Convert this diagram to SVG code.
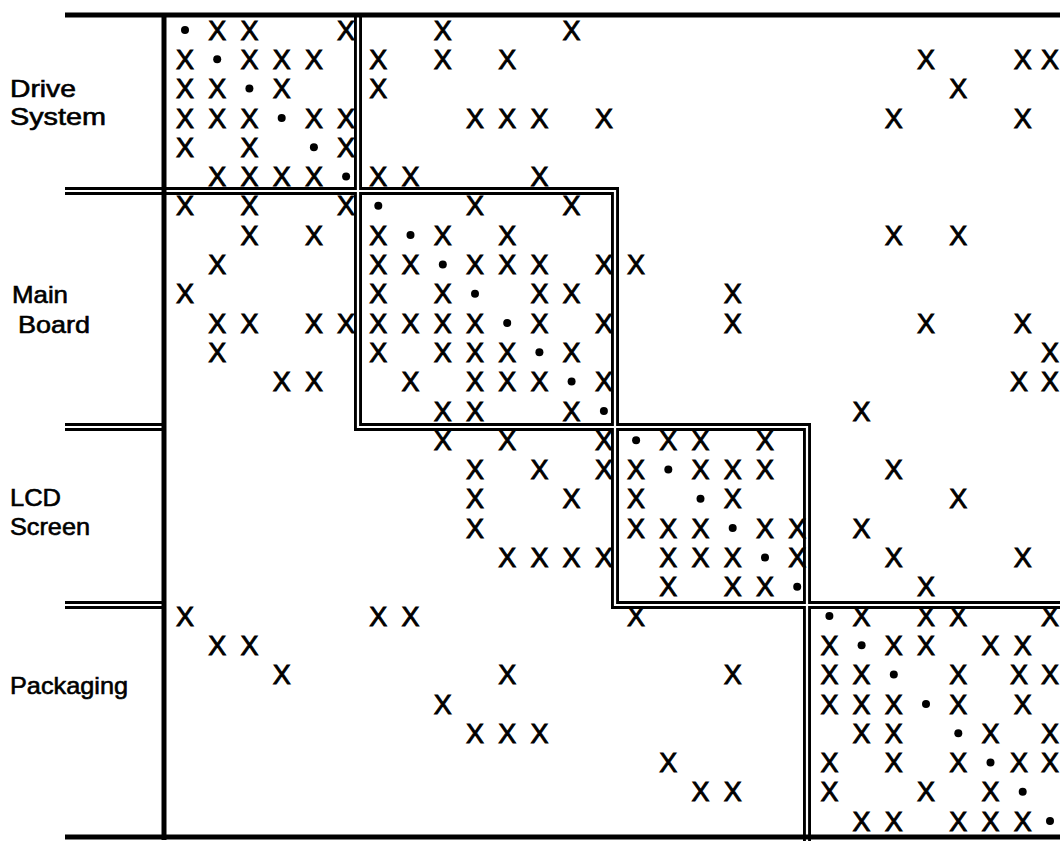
<svg xmlns="http://www.w3.org/2000/svg" width="1060" height="842" viewBox="0 0 1060 842">
<style>
.lbl{font-family:"Liberation Sans",Arial,sans-serif;font-size:24px;fill:#000;stroke:#000;stroke-width:0.6}
.x{font-family:"Liberation Sans",Arial,sans-serif;font-size:27px;fill:#000;stroke:#000;stroke-width:0.9;text-anchor:middle}
.d{fill:#000}
.dblk{fill:none;stroke:#000;stroke-width:8;stroke-linejoin:miter}
.dwht{fill:none;stroke:#fff;stroke-width:2.2;stroke-linejoin:miter}
.frame{fill:none;stroke:#000;stroke-width:5}
</style>
<rect width="1060" height="842" fill="#fff"/>
<g id="connectors">
<path class="dblk" d="M65,191 H615 V605 H1060 M358,15 V427 H807 V841 M65,427 H164 M65,605 H164"/>
<path class="dwht" d="M65,191 H615 V605 H1060 M358,15 V427 H807 V841 M65,427 H164 M65,605 H164"/>
<path class="frame" d="M65,15 H1060 M164,13 V840 M65,837 H1060"/>
</g>
<g id="drive-system">
<text class="lbl" x="10" y="97" textLength="66" lengthAdjust="spacingAndGlyphs">Drive</text>
<text class="lbl" x="10" y="125" textLength="96" lengthAdjust="spacingAndGlyphs">System</text>
</g>
<g id="main-board">
<text class="lbl" x="12" y="303" textLength="56" lengthAdjust="spacingAndGlyphs">Main</text>
<text class="lbl" x="18" y="333" textLength="72" lengthAdjust="spacingAndGlyphs">Board</text>
</g>
<g id="lcd-screen">
<text class="lbl" x="10" y="506" textLength="51" lengthAdjust="spacingAndGlyphs">LCD</text>
<text class="lbl" x="10" y="535" textLength="80" lengthAdjust="spacingAndGlyphs">Screen</text>
</g>
<g id="packaging">
<text class="lbl" x="10" y="694" textLength="118" lengthAdjust="spacingAndGlyphs">Packaging</text>
</g>
<g id="matrix">
<g transform="translate(0,30)"><circle class="d" cx="185" cy="0" r="4"/><text class="x" y="9.6"><tspan x="217.2">X</tspan><tspan x="249.4">X</tspan><tspan x="346.1">X</tspan><tspan x="442.8">X</tspan><tspan x="571.6">X</tspan></text></g>
<g transform="translate(0,59.3)"><circle class="d" cx="217.2" cy="0" r="4"/><text class="x" y="9.6"><tspan x="185">X</tspan><tspan x="249.4">X</tspan><tspan x="281.7">X</tspan><tspan x="313.9">X</tspan><tspan x="378.3">X</tspan><tspan x="442.8">X</tspan><tspan x="507.2">X</tspan><tspan x="926">X</tspan><tspan x="1022.7">X</tspan><tspan x="1050">X</tspan></text></g>
<g transform="translate(0,88.6)"><circle class="d" cx="249.4" cy="0" r="4"/><text class="x" y="9.6"><tspan x="185">X</tspan><tspan x="217.2">X</tspan><tspan x="281.7">X</tspan><tspan x="378.3">X</tspan><tspan x="958.3">X</tspan></text></g>
<g transform="translate(0,117.9)"><circle class="d" cx="281.7" cy="0" r="4"/><text class="x" y="9.6"><tspan x="185">X</tspan><tspan x="217.2">X</tspan><tspan x="249.4">X</tspan><tspan x="313.9">X</tspan><tspan x="346.1">X</tspan><tspan x="475">X</tspan><tspan x="507.2">X</tspan><tspan x="539.4">X</tspan><tspan x="603.9">X</tspan><tspan x="893.8">X</tspan><tspan x="1022.7">X</tspan></text></g>
<g transform="translate(0,147.2)"><circle class="d" cx="313.9" cy="0" r="4"/><text class="x" y="9.6"><tspan x="185">X</tspan><tspan x="249.4">X</tspan><tspan x="346.1">X</tspan></text></g>
<g transform="translate(0,176.5)"><circle class="d" cx="346.1" cy="0" r="4"/><text class="x" y="9.6"><tspan x="217.2">X</tspan><tspan x="249.4">X</tspan><tspan x="281.7">X</tspan><tspan x="313.9">X</tspan><tspan x="378.3">X</tspan><tspan x="410.5">X</tspan><tspan x="539.4">X</tspan></text></g>
<g transform="translate(0,205.8)"><circle class="d" cx="378.3" cy="0" r="4"/><text class="x" y="9.6"><tspan x="185">X</tspan><tspan x="249.4">X</tspan><tspan x="346.1">X</tspan><tspan x="475">X</tspan><tspan x="571.6">X</tspan></text></g>
<g transform="translate(0,235.1)"><circle class="d" cx="410.5" cy="0" r="4"/><text class="x" y="9.6"><tspan x="249.4">X</tspan><tspan x="313.9">X</tspan><tspan x="378.3">X</tspan><tspan x="442.8">X</tspan><tspan x="507.2">X</tspan><tspan x="893.8">X</tspan><tspan x="958.3">X</tspan></text></g>
<g transform="translate(0,264.4)"><circle class="d" cx="442.8" cy="0" r="4"/><text class="x" y="9.6"><tspan x="217.2">X</tspan><tspan x="378.3">X</tspan><tspan x="410.5">X</tspan><tspan x="475">X</tspan><tspan x="507.2">X</tspan><tspan x="539.4">X</tspan><tspan x="603.9">X</tspan><tspan x="636.1">X</tspan></text></g>
<g transform="translate(0,293.7)"><circle class="d" cx="475" cy="0" r="4"/><text class="x" y="9.6"><tspan x="185">X</tspan><tspan x="378.3">X</tspan><tspan x="442.8">X</tspan><tspan x="539.4">X</tspan><tspan x="571.6">X</tspan><tspan x="732.7">X</tspan></text></g>
<g transform="translate(0,323)"><circle class="d" cx="507.2" cy="0" r="4"/><text class="x" y="9.6"><tspan x="217.2">X</tspan><tspan x="249.4">X</tspan><tspan x="313.9">X</tspan><tspan x="346.1">X</tspan><tspan x="378.3">X</tspan><tspan x="410.5">X</tspan><tspan x="442.8">X</tspan><tspan x="475">X</tspan><tspan x="539.4">X</tspan><tspan x="603.9">X</tspan><tspan x="732.7">X</tspan><tspan x="926">X</tspan><tspan x="1022.7">X</tspan></text></g>
<g transform="translate(0,352.3)"><circle class="d" cx="539.4" cy="0" r="4"/><text class="x" y="9.6"><tspan x="217.2">X</tspan><tspan x="378.3">X</tspan><tspan x="442.8">X</tspan><tspan x="475">X</tspan><tspan x="507.2">X</tspan><tspan x="571.6">X</tspan><tspan x="1050">X</tspan></text></g>
<g transform="translate(0,381.6)"><circle class="d" cx="571.6" cy="0" r="4"/><text class="x" y="9.6"><tspan x="281.7">X</tspan><tspan x="313.9">X</tspan><tspan x="410.5">X</tspan><tspan x="475">X</tspan><tspan x="507.2">X</tspan><tspan x="539.4">X</tspan><tspan x="603.9">X</tspan><tspan x="1019">X</tspan><tspan x="1050">X</tspan></text></g>
<g transform="translate(0,410.9)"><circle class="d" cx="603.9" cy="0" r="4"/><text class="x" y="9.6"><tspan x="442.8">X</tspan><tspan x="475">X</tspan><tspan x="571.6">X</tspan><tspan x="861.6">X</tspan></text></g>
<g transform="translate(0,440.2)"><circle class="d" cx="636.1" cy="0" r="4"/><text class="x" y="9.6"><tspan x="442.8">X</tspan><tspan x="507.2">X</tspan><tspan x="603.9">X</tspan><tspan x="668.3">X</tspan><tspan x="700.5">X</tspan><tspan x="765">X</tspan></text></g>
<g transform="translate(0,469.5)"><circle class="d" cx="668.3" cy="0" r="4"/><text class="x" y="9.6"><tspan x="475">X</tspan><tspan x="539.4">X</tspan><tspan x="603.9">X</tspan><tspan x="636.1">X</tspan><tspan x="700.5">X</tspan><tspan x="732.7">X</tspan><tspan x="765">X</tspan><tspan x="893.8">X</tspan></text></g>
<g transform="translate(0,498.8)"><circle class="d" cx="700.5" cy="0" r="4"/><text class="x" y="9.6"><tspan x="475">X</tspan><tspan x="571.6">X</tspan><tspan x="636.1">X</tspan><tspan x="732.7">X</tspan><tspan x="958.3">X</tspan></text></g>
<g transform="translate(0,528.1)"><circle class="d" cx="732.7" cy="0" r="4"/><text class="x" y="9.6"><tspan x="475">X</tspan><tspan x="636.1">X</tspan><tspan x="668.3">X</tspan><tspan x="700.5">X</tspan><tspan x="765">X</tspan><tspan x="797.2">X</tspan><tspan x="861.6">X</tspan></text></g>
<g transform="translate(0,557.4)"><circle class="d" cx="765" cy="0" r="4"/><text class="x" y="9.6"><tspan x="507.2">X</tspan><tspan x="539.4">X</tspan><tspan x="571.6">X</tspan><tspan x="603.9">X</tspan><tspan x="668.3">X</tspan><tspan x="700.5">X</tspan><tspan x="732.7">X</tspan><tspan x="797.2">X</tspan><tspan x="893.8">X</tspan><tspan x="1022.7">X</tspan></text></g>
<g transform="translate(0,586.7)"><circle class="d" cx="797.2" cy="0" r="4"/><text class="x" y="9.6"><tspan x="668.3">X</tspan><tspan x="732.7">X</tspan><tspan x="765">X</tspan><tspan x="926">X</tspan></text></g>
<g transform="translate(0,616)"><circle class="d" cx="829.4" cy="0" r="4"/><text class="x" y="9.6"><tspan x="185">X</tspan><tspan x="378.3">X</tspan><tspan x="410.5">X</tspan><tspan x="636.1">X</tspan><tspan x="861.6">X</tspan><tspan x="926">X</tspan><tspan x="958.3">X</tspan><tspan x="1050">X</tspan></text></g>
<g transform="translate(0,645.3)"><circle class="d" cx="861.6" cy="0" r="4"/><text class="x" y="9.6"><tspan x="217.2">X</tspan><tspan x="249.4">X</tspan><tspan x="829.4">X</tspan><tspan x="893.8">X</tspan><tspan x="926">X</tspan><tspan x="990.5">X</tspan><tspan x="1022.7">X</tspan></text></g>
<g transform="translate(0,674.6)"><circle class="d" cx="893.8" cy="0" r="4"/><text class="x" y="9.6"><tspan x="281.7">X</tspan><tspan x="507.2">X</tspan><tspan x="732.7">X</tspan><tspan x="829.4">X</tspan><tspan x="861.6">X</tspan><tspan x="958.3">X</tspan><tspan x="1019">X</tspan><tspan x="1050">X</tspan></text></g>
<g transform="translate(0,703.9)"><circle class="d" cx="926" cy="0" r="4"/><text class="x" y="9.6"><tspan x="442.8">X</tspan><tspan x="829.4">X</tspan><tspan x="861.6">X</tspan><tspan x="893.8">X</tspan><tspan x="958.3">X</tspan><tspan x="1022.7">X</tspan></text></g>
<g transform="translate(0,733.2)"><circle class="d" cx="958.3" cy="0" r="4"/><text class="x" y="9.6"><tspan x="475">X</tspan><tspan x="507.2">X</tspan><tspan x="539.4">X</tspan><tspan x="861.6">X</tspan><tspan x="893.8">X</tspan><tspan x="990.5">X</tspan><tspan x="1050">X</tspan></text></g>
<g transform="translate(0,762.5)"><circle class="d" cx="990.5" cy="0" r="4"/><text class="x" y="9.6"><tspan x="668.3">X</tspan><tspan x="829.4">X</tspan><tspan x="893.8">X</tspan><tspan x="958.3">X</tspan><tspan x="1019">X</tspan><tspan x="1050">X</tspan></text></g>
<g transform="translate(0,791.8)"><circle class="d" cx="1022.7" cy="0" r="4"/><text class="x" y="9.6"><tspan x="700.5">X</tspan><tspan x="732.7">X</tspan><tspan x="829.4">X</tspan><tspan x="926">X</tspan><tspan x="990.5">X</tspan></text></g>
<g transform="translate(0,821.1)"><circle class="d" cx="1050" cy="0" r="4"/><text class="x" y="9.6"><tspan x="861.6">X</tspan><tspan x="893.8">X</tspan><tspan x="958.3">X</tspan><tspan x="990.5">X</tspan><tspan x="1022.7">X</tspan></text></g>
</g>
</svg>
